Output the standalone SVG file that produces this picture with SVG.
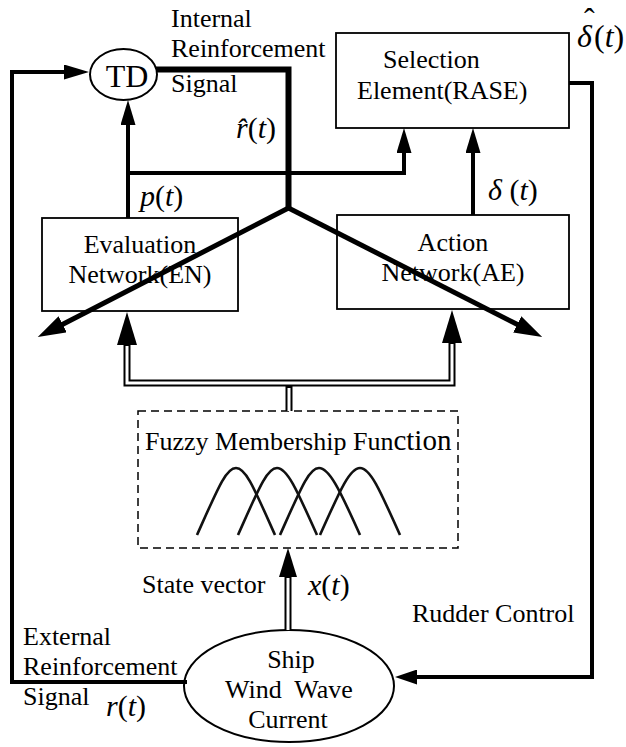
<svg xmlns="http://www.w3.org/2000/svg" width="626" height="747" viewBox="0 0 626 747" font-family="'Liberation Serif', 'DejaVu Serif', serif">
  <style>
    text { font-family: "Liberation Serif", "DejaVu Serif", serif; font-size: 26px; fill: #000; }
    .math { font-size: 30px; }
    .it { font-style: italic; }
    .mid { text-anchor: middle; }
    .box { fill: none; stroke: #000; stroke-width: 1.8; }
    .ell { fill: #fff; stroke: #000; stroke-width: 2; }
    .line { fill: none; stroke: #000; stroke-width: 4; }
    .thick { fill: none; stroke: #000; stroke-width: 6; }
    .diag { fill: none; stroke: #000; stroke-width: 5; }
    .dbl-o { fill: none; stroke: #000; stroke-width: 7; }
    .dbl-i { fill: none; stroke: #fff; stroke-width: 3; }
    .dash { fill: none; stroke: #000; stroke-width: 1.5; stroke-dasharray: 8 5; }
    .curve { fill: none; stroke: #111; stroke-width: 2.6; }
  </style>
  <defs>
    <marker id="aS" viewBox="0 0 25 15" markerWidth="25" markerHeight="15" refX="2" refY="7.5" markerUnits="userSpaceOnUse" orient="auto">
      <path d="M0,0 L25,7.5 L0,15 z" fill="#000"/>
    </marker>
    <marker id="aR" viewBox="0 0 22 15" markerWidth="22" markerHeight="15" refX="2" refY="7.5" markerUnits="userSpaceOnUse" orient="auto">
      <path d="M0,0 L22,7.5 L0,15 z" fill="#000"/>
    </marker>
    <marker id="aD" viewBox="0 0 28 18" markerWidth="28" markerHeight="18" refX="2" refY="9" markerUnits="userSpaceOnUse" orient="auto">
      <path d="M0,0 L28,9 L0,18 z" fill="#000"/>
    </marker>
    <marker id="aL" viewBox="0 0 33 20" markerWidth="33" markerHeight="20" refX="0" refY="10" markerUnits="userSpaceOnUse" orient="auto-start-reverse">
      <path d="M0,0 L33,10 L0,20 z" fill="#000"/>
    </marker>
    <marker id="aX" viewBox="0 0 29 18" markerWidth="29" markerHeight="18" refX="0" refY="9" markerUnits="userSpaceOnUse" orient="auto">
      <path d="M0,0 L29,9 L0,18 z" fill="#000"/>
    </marker>
  </defs>
  <rect width="626" height="747" fill="#fff"/>

  <g id="td">
    <ellipse class="ell" cx="123.5" cy="74.5" rx="33.5" ry="25.5"/>
    <text class="mid" x="127" y="87" style="font-size:32px">TD</text>
  </g>

  <g id="selection">
    <rect class="box" x="336" y="33" width="233" height="95"/>
    <text x="383" y="68">Selection</text>
    <text x="357" y="99">Element(RASE)</text>
  </g>

  <g id="evaluation">
    <rect class="box" x="42" y="218" width="196" height="93"/>
    <text class="mid" x="140" y="253">Evaluation</text>
    <text class="mid" x="140" y="283">Network(EN)</text>
  </g>

  <g id="action">
    <rect class="box" x="337" y="215" width="232" height="94"/>
    <text class="mid" x="453" y="251">Action</text>
    <text class="mid" x="453" y="281">Network(AE)</text>
  </g>

  <g id="fuzzy">
    <rect class="dash" x="138" y="411" width="320" height="137"/>
    <text x="145" y="450">Fuzzy Membership Fun<tspan style="font-size:29px">ction</tspan></text>
    <path class="curve" d="M197,535 C218,488 226,468 236,468 S254,488 275,535"/>
    <path class="curve" d="M238,535 C259,488 267,468 277,468 S296,488 317,535"/>
    <path class="curve" d="M280,535 C301,488 309,468 319,468 S339,488 360,535"/>
    <path class="curve" d="M320,535 C341,488 350,468 360,468 S379,488 400,535"/>
  </g>

  <g id="ship">
    <ellipse class="ell" cx="289" cy="686" rx="105" ry="56"/>
    <text class="mid" x="291" y="668">Ship</text>
    <text class="mid" x="289" y="698" xml:space="preserve">Wind  Wave</text>
    <text class="mid" x="288" y="728">Current</text>
  </g>

  <g id="labels">
    <text x="171" y="27">Internal</text>
    <text x="171" y="57">Reinforcement</text>
    <text x="171" y="92">Signal</text>
    <text class="math" x="236" y="138"><tspan class="it">r̂</tspan>(<tspan class="it">t</tspan>)</text>
    <text class="math" x="140" y="206"><tspan class="it">p</tspan>(<tspan class="it">t</tspan>)</text>
    <text class="math" style="font-size:32px"><tspan class="it" x="577" y="47">δ</tspan><tspan x="584" y="30">ˆ</tspan><tspan x="594" y="47">(</tspan><tspan class="it">t</tspan>)</text>
    <text class="math" x="488" y="200"><tspan class="it">δ</tspan> (<tspan class="it">t</tspan>)</text>
    <text x="142" y="593">State vector</text>
    <text class="math" x="308" y="595"><tspan class="it">x</tspan>(<tspan class="it">t</tspan>)</text>
    <text x="412" y="622">Rudder Control</text>
    <text x="23" y="645">External</text>
    <text x="23" y="675">Reinforcement</text>
    <text x="23" y="705">Signal</text>
    <text class="math" x="106" y="716"><tspan class="it">r</tspan>(<tspan class="it">t</tspan>)</text>
  </g>

  <g id="connectors">
    <path class="line" d="M187,682 H12 V72 H66" marker-end="url(#aS)"/>
    <path class="line" d="M128,218 V123" marker-end="url(#aS)"/>
    <path class="line" d="M128,173 H404 V151" marker-end="url(#aS)"/>
    <path class="line" d="M473,215 V151" marker-end="url(#aS)"/>
    <path class="line" d="M569,83 H592 V677 H415" marker-end="url(#aR)"/>
    <path class="thick" d="M156,69.5 H288.5 V210"/>
    <path class="diag" d="M288.5,208 L60.9,325.2" marker-end="url(#aD)"/>
    <path class="diag" d="M288.5,208 L519,325.3" marker-end="url(#aD)"/>
    <path class="dbl-o" d="M127,345 V383 H452 V343" marker-start="url(#aL)" marker-end="url(#aL)"/>
    <path class="dbl-i" d="M127,346 V383 H452 V344"/>
    <path class="dbl-o" d="M289,386 V411"/>
    <path class="dbl-i" d="M289,388 V411"/>
    <path class="dbl-o" d="M288,630 V577" marker-end="url(#aX)"/>
    <path class="dbl-i" d="M288,630 V578"/>
  </g>
</svg>
